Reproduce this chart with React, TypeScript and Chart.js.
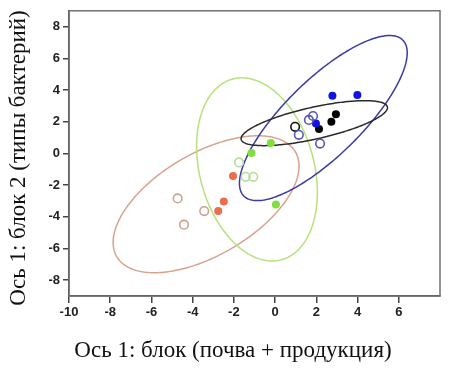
import React, { useEffect, useRef } from "react";
import { Chart, registerables } from "chart.js";

Chart.register(...registerables);

// ---- data ----
const X_TICKS = [-10, -8, -6, -4, -2, 0, 2, 4, 6];
const Y_TICKS = [-8, -6, -4, -2, 0, 2, 4, 6, 8];

const soilFilled = [
  { x: -2.04, y: -1.42 },
  { x: -2.49, y: -3.04 },
  { x: -2.76, y: -3.64 },
];
const soilOpen = [
  { x: -4.73, y: -2.84 },
  { x: -3.44, y: -3.64 },
  { x: -4.42, y: -4.5 },
];
const greenFilled = [
  { x: -0.21, y: 0.66 },
  { x: -1.15, y: 0.02 },
  { x: 0.04, y: -3.22 },
];
const greenOpen = [
  { x: -1.75, y: -0.57 },
  { x: -1.43, y: -1.48 },
  { x: -1.06, y: -1.48 },
];
const blueFilled = [
  { x: 2.78, y: 3.64 },
  { x: 3.99, y: 3.68 },
  { x: 1.98, y: 1.89 },
];
const blueOpen = [
  { x: 1.84, y: 2.36 },
  { x: 1.64, y: 2.11 },
  { x: 1.15, y: 1.17 },
  { x: 2.18, y: 0.62 },
];
const blackFilled = [
  { x: 2.13, y: 1.54 },
  { x: 2.73, y: 1.99 },
  { x: 2.95, y: 2.47 },
];
const blackOpen = [{ x: 0.97, y: 1.68 }];

// ellipses: centre, half-extents along x / y, correlation
const ELLIPSE_CX = [-3.35, -0.88, 2.34, 1.9];
const ELLIPSE_CY = [-3.21, -1.01, 2.23, 1.91];
const ELLIPSE_HX = [4.51, 2.93, 4.07, 3.55];
const ELLIPSE_HY = [4.32, 5.78, 5.21, 1.42];
const ELLIPSE_R = [0.557, -0.25, 0.79, 0.69];
const ELLIPSE_COLORS = ["#d9a28e", "#b6e27c", "#3b3ba0", "#2a2a2a"];

const X_TITLE = "Ось 1: блок (почва + продукция)";
const Y_TITLE = "Ось 1: блок 2 (типы бактерий)";

const ellipsePlugin = {
  id: "ellipses",
  beforeDatasetsDraw(chart: any) {
    const { ctx, scales, chartArea } = chart;
    const xs = scales.x;
    const ys = scales.y;
    ctx.save();
    ctx.beginPath();
    ctx.rect(chartArea.left, chartArea.top, chartArea.right - chartArea.left, chartArea.bottom - chartArea.top);
    ctx.clip();
    for (let i = 0; i < ELLIPSE_CX.length; i++) {
      const r = ELLIPSE_R[i];
      const s = Math.sqrt(1 - r * r);
      ctx.beginPath();
      for (let k = 0; k <= 240; k++) {
        const t = (k / 240) * Math.PI * 2;
        const dx = ELLIPSE_CX[i] + ELLIPSE_HX[i] * Math.cos(t);
        const dy = ELLIPSE_CY[i] + ELLIPSE_HY[i] * (r * Math.cos(t) + s * Math.sin(t));
        const px = xs.getPixelForValue(dx);
        const py = ys.getPixelForValue(dy);
        if (k === 0) ctx.moveTo(px, py);
        else ctx.lineTo(px, py);
      }
      ctx.closePath();
      ctx.strokeStyle = ELLIPSE_COLORS[i];
      ctx.lineWidth = 1.5;
      ctx.stroke();
    }
    ctx.restore();
  },
};

const framePlugin = {
  id: "frame",
  afterDraw(chart: any) {
    const { ctx, chartArea } = chart;
    ctx.save();
    ctx.strokeStyle = "#707070";
    ctx.lineWidth = 1.5;
    ctx.strokeRect(chartArea.left, chartArea.top, chartArea.right - chartArea.left, chartArea.bottom - chartArea.top);
    ctx.fillStyle = "#111";
    ctx.font = '23px "Liberation Serif"';
    ctx.textAlign = "center";
    ctx.textBaseline = "middle";
    ctx.fillText(X_TITLE, 233, 351);
    ctx.translate(19, 158);
    ctx.rotate(-Math.PI / 2);
    ctx.fillText(Y_TITLE, 0, 0);
    ctx.restore();
  },
};

function filled(data: any[], color: string) {
  return {
    data,
    pointRadius: 4,
    pointBackgroundColor: color,
    pointBorderColor: color,
    pointBorderWidth: 0,
    showLine: false,
  };
}
function open(data: any[], color: string) {
  return {
    data,
    pointRadius: 4.3,
    pointBackgroundColor: "rgba(255,255,255,0)",
    pointBorderColor: color,
    pointBorderWidth: 1.6,
    showLine: false,
  };
}

export default function App() {
  const ref = useRef<HTMLCanvasElement>(null);
  useEffect(() => {
    if (!ref.current) return;
    const chart = new Chart(ref.current, {
      type: "scatter",
      data: {
        datasets: [
          open(soilOpen, "#c9a393"),
          filled(soilFilled, "#ee6b4b"),
          open(greenOpen, "#b3dd98"),
          filled(greenFilled, "#7fe03d"),
          open(blueOpen, "#5858b4"),
          open(blackOpen, "#111111"),
          filled(blueFilled, "#1212e0"),
          filled(blackFilled, "#000000"),
        ] as any,
      },
      options: {
        animation: false,
        responsive: false,
        events: [],
        layout: { padding: { left: 0, right: 13, top: 4, bottom: 0 } },
        plugins: { legend: { display: false }, tooltip: { enabled: false } },
        scales: {
          x: {
            type: "linear",
            min: -10,
            max: 8,
            afterBuildTicks: (axis: any) => {
              axis.ticks = X_TICKS.map((v) => ({ value: v }));
            },
            afterFit: (s: any) => {
              s.height = 72;
            },
            grid: { drawOnChartArea: false, drawTicks: true, tickLength: 7, color: "#444", lineWidth: 1.5 },
            border: { display: true, color: "#444", width: 1.5 },
            ticks: {
              padding: 2,
              color: "#222",
              font: { family: '"Liberation Sans", Arial', size: 13, weight: "bold" },
              maxRotation: 0,
              autoSkip: false,
            },
          },
          y: {
            type: "linear",
            min: -9,
            max: 9,
            afterBuildTicks: (axis: any) => {
              axis.ticks = Y_TICKS.map((v) => ({ value: v }));
            },
            afterFit: (s: any) => {
              s.width = 69;
            },
            grid: { drawOnChartArea: false, drawTicks: true, tickLength: 6, color: "#444", lineWidth: 1.5 },
            border: { display: true, color: "#444", width: 1.5 },
            ticks: {
              padding: 3,
              color: "#222",
              font: { family: '"Liberation Sans", Arial', size: 13, weight: "bold" },
              autoSkip: false,
            },
          },
        },
      },
      plugins: [ellipsePlugin, framePlugin],
    });
    return () => chart.destroy();
  }, []);
  return (
    <div style={{ position: "fixed", left: 0, top: 0, width: 453, height: 368, background: "#fff" }}>
      <canvas ref={ref} width={453} height={368} style={{ display: "block", width: 453, height: 368 }} />
    </div>
  );
}
